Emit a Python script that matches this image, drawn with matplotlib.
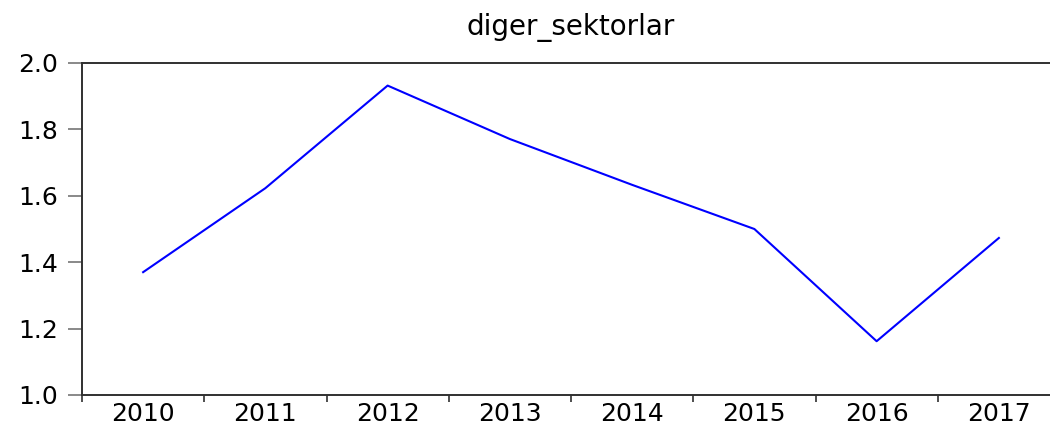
import numpy as np
import matplotlib
matplotlib.use("Agg")
import matplotlib.pyplot as plt

years = ["2010", "2011", "2012", "2013", "2014", "2015", "2016", "2017"]
values = [1.370, 1.623, 1.932, 1.771, 1.633, 1.500, 1.162, 1.473]
yticks = [1.0, 1.2, 1.4, 1.6, 1.8, 2.0]

plt.rcParams['font.family'] = ['DejaVu Sans']

fig = plt.figure(figsize=(10.5, 4.26), dpi=100)
ax = fig.add_axes([82 / 1050, 31 / 426, 978 / 1050, 332 / 426])

x = np.arange(len(years))
ax.plot(x, values, color="#0000ff", linewidth=1.5)

ax.set_xlim(-0.5, len(years) - 0.5)
ax.set_ylim(1.0, 2.0)

ax.set_title("diger_sektorlar", fontsize=20, pad=20)

# year labels sit between the boundary ticks
ax.set_xticks(x)
ax.set_xticklabels(years, fontsize=18)
ax.set_xticks(np.arange(-0.5, len(years) - 0.5, 1.0), minor=True)
ax.tick_params(axis="x", which="major", length=0, pad=5)
ax.tick_params(axis="x", which="minor", length=5, width=1.3,
               color="#404040", direction="out")

ax.set_yticks(yticks)
ax.set_yticklabels([f"{v:.1f}" for v in yticks], fontsize=18)
ax.tick_params(axis="y", length=10, width=1.3, color="#808080", pad=7)

for side in ["left", "bottom", "top"]:
    ax.spines[side].set_color("#303030")
    ax.spines[side].set_linewidth(1.4)
ax.spines["right"].set_visible(False)

fig.savefig("out.png", dpi=100)
